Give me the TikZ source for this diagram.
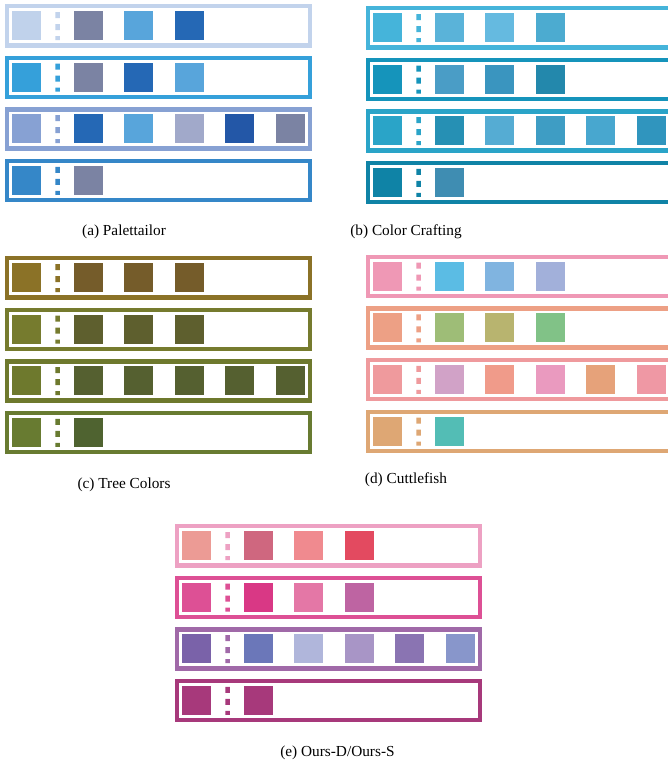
\documentclass[tikz,border=0pt]{standalone}
\usepackage{fontspec}
\setmainfont{Liberation Serif}
\newcommand\prow[5]{%
  \begin{scope}[shift={(#1,#2)}]
    \definecolor{bc}{HTML}{#3}\definecolor{fc}{HTML}{#4}%
    \draw[bc, line width=4.4pt] (7.2,2.2) rectangle (309.8,41.3);
    \fill[fc] (12,7) rectangle (41,36);
    \fill[bc] (55.3,8) rectangle (59.8,14) (55.3,20) rectangle (59.8,26) (55.3,32) rectangle (59.8,36);
    \foreach \c [count=\k from 0] in {#5} {%
      \edef\tmpdef{\noexpand\definecolor{sc}{HTML}{\c}}\tmpdef
      \fill[sc] (74+50.4*\k,7) rectangle ++(29,29);}
  \end{scope}}
\tikzset{caption/.style={anchor=base, font=\fontsize{15.3}{18}\selectfont, inner sep=0pt}}
\begin{document}
\begin{tikzpicture}[x=1pt,y=-1pt]
\useasboundingbox[fill=white] (0,0) rectangle (668,766);
% (a) Palettailor
\prow{0}{4}{C2D3EC}{C0D2EB}{7B83A3,58A5DB,2568B5}
\prow{0}{55.6}{35A0DA}{35A0DA}{7B83A3,2568B5,58A5DB}
\prow{0}{107.2}{87A1D3}{87A1D3}{2568B5,58A5DB,A1A9CA,2357A7,7B83A3}
\prow{0}{158.8}{3587C8}{3587C8}{7B83A3}
% (b) Color Crafting
\prow{361}{6}{45B4DA}{45B4DA}{5AB3D9,65BAE0,4CABD0}
\prow{361}{57.6}{1594BB}{1594BB}{4A9DC6,3A95BF,2388AC}
\prow{361}{109.2}{2AA4C8}{2AA4C8}{2690B4,55ACD3,3E9DC4,48A7CF,3095BE}
\prow{361}{160.8}{0F83A6}{0F83A6}{3F8DB2}
% (c) Tree Colors
\prow{0}{256}{8B7227}{8B7227}{755C2A,755C2A,755C2A}
\prow{0}{307.6}{767B2E}{767B2E}{5E5F2E,5E5F2E,5E5F2E}
\prow{0}{359.2}{6E792D}{6E792D}{556030,556030,556030,556030,556030}
\prow{0}{410.8}{687B31}{687B31}{4F6330}
% (d) Cuttlefish
\prow{361}{254.7}{EF98B5}{EF98B5}{5BBCE4,80B4E0,A2B0DA}
\prow{361}{306.3}{EDA085}{EDA085}{9EBD77,B8B46F,81C287}
\prow{361}{357.9}{EF9A9D}{EF9A9D}{D1A2C7,F09B8A,EA9ABF,E6A27A,EF98A4}
\prow{361}{409.5}{DEA774}{DEA774}{53BDB5}
% (e) Ours
\prow{170}{524}{EDA1C3}{EC9B95}{CF677F,F08A8F,E34A60}
\prow{170}{575.6}{DD5095}{DD5095}{D93885,E477A6,BE64A2}
\prow{170}{627.2}{A069A8}{7A62A9}{6B77B9,B0B6DB,A895C6,8A74B2,8896CB}
\prow{170}{678.8}{A7397B}{A7397B}{A7397B}
% captions
\node[caption] (capa) at (124,235) {(a) Palettailor};
\node[caption] (capb) at (406,235) {(b) Color Crafting};
\node[caption] (capc) at (124,488) {(c) Tree Colors};
\node[caption] (capd) at (406,483.5) {(d) Cuttlefish};
\node[caption] (cape) at (337.5,756) {(e) Ours-D/Ours-S};
\end{tikzpicture}
\end{document}
